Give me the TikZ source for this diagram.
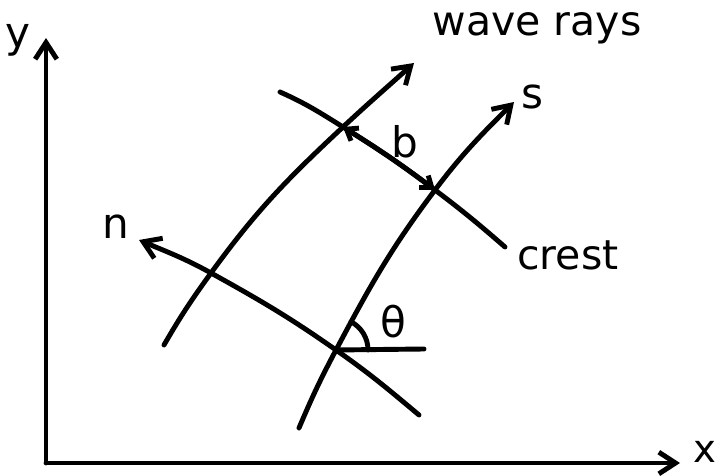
\documentclass[tikz,border=0pt]{standalone}
\usepackage{fontspec}
\setsansfont{DejaVu Sans}
\usepackage{tikz}
\usetikzlibrary{arrows.meta, positioning, calc}

\begin{document}
\begin{tikzpicture}[x=0.03cm, y=0.03cm,
    line width=4.2pt, line cap=round, line join=round,
    ray/.style={-{Straight Barb[length=5mm, width=6.5mm]}},
    both/.style={{Straight Barb[length=3mm, width=4.5mm]}-{Straight Barb[length=3mm, width=4.5mm]}},
    lbl/.style={inner sep=1pt, font=\fontsize{35}{40}\selectfont\sffamily},
    sym/.style={inner sep=1pt, font=\fontsize{36}{40}\selectfont\sffamily}]
  \useasboundingbox (0,0) rectangle (726,476);

  % axes
  \coordinate (o) at (46,13);
  \coordinate (ytip) at (46,438);
  \coordinate (xtip) at (680,13);
  \draw[ray] (o) -- (ytip);
  \draw[ray] (o) -- (xtip);
  \node[sym] (ylab) at (18,436) {y};
  \node[sym, font=\fontsize{33}{38}\selectfont\sffamily] (xlab) at (705,24) {x};

  % crossing points of rays, crest and normal
  \coordinate (a0) at (164,131);
  \coordinate (a1) at (211,203);
  \coordinate (a2) at (343,349);
  \coordinate (a3) at (414,413);
  \coordinate (b0) at (299,48);
  \coordinate (b1) at (336,126);
  \coordinate (b2) at (435,286);
  \coordinate (b3) at (514,374);
  \coordinate (c0) at (280,384);
  \coordinate (c3) at (505,229);
  \coordinate (n0) at (419,61);
  \coordinate (n3) at (139,236);
  \coordinate (h) at (424,127);

  % wave rays
  \draw[ray] (a0) to[out=60,in=234] (a1) to[out=54,in=223] (a2) to[out=43,in=222] (a3);
  \draw[ray] (b0) to[out=67,in=242] (b1) to[out=62,in=233] (b2) to[out=53,in=225] (b3);

  % crest and normal
  \draw (c0) to[out=-24,in=148] (a2) to[out=-32,in=143] (b2) to[out=-37,in=139] (c3);
  \draw[ray] (n0) to[out=140,in=-35] (b1) to[out=145,in=-29] (a1) to[out=151,in=-23] (n3);
  \draw[both] (a2) to[out=-32,in=143] (b2);

  % angle
  \draw (b1) -- (h);
  \draw (b1) ++(0.96cm,0) arc[start angle=0, end angle=62, radius=0.96cm];

  % labels
  \node[lbl] (rays) at (537,448) {wave rays};
  \node[lbl] (crest) at (568,221) {crest};
  \node[sym] (nlab) at (116,249) {n};
  \node[sym] (slab) at (532,379) {s};
  \node[sym] (blab) at (405,334) {b};
  \node[sym] (tlab) at (393,154) {θ};
\end{tikzpicture}
\end{document}
